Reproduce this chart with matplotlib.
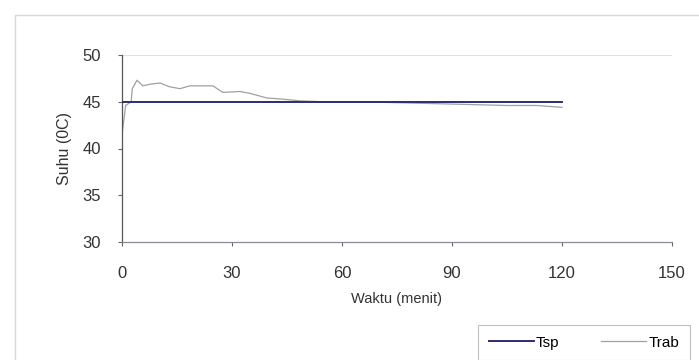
import matplotlib.pyplot as plt
from matplotlib.patches import Rectangle

plt.rcParams['font.family'] = ['Liberation Sans', 'DejaVu Sans']

# Setpoint suhu (Tsp)
t_sp = [0, 120]
suhu_sp = [45, 45]

# Suhu terukur (Trab)
t_rab = [0, 1, 2.5, 2.8, 4.1, 5.7, 8, 10.4, 13, 15.8, 18.5, 22, 24.8, 27.5,
         32.2, 34.9, 39.5, 43.1, 48.5, 55, 65, 75, 85, 95, 105, 113, 120]
suhu_rab = [41.5, 44.6, 45.0, 46.4, 47.3, 46.7, 46.9, 47.0, 46.6, 46.4, 46.7,
            46.7, 46.7, 46.0, 46.1, 45.9, 45.4, 45.3, 45.1, 45.0, 45.0, 44.9,
            44.8, 44.7, 44.6, 44.6, 44.4]

xticks = [0, 30, 60, 90, 120, 150]
yticks = [30, 35, 40, 45, 50]

fig = plt.figure(figsize=(6.99, 3.6), dpi=100)
ax = fig.add_axes([122 / 699, 1 - 242 / 360, 550 / 699, 187 / 360])

# bingkai area chart (hasil scan)
fig.patches.append(Rectangle((15 / 699, -0.2), 1.2, 1.2 - 15 / 360,
                             transform=fig.transFigure, fill=False,
                             edgecolor='#d8d8d8', linewidth=1.0))

ax.plot(t_rab, suhu_rab, color='#a0a0a0', linewidth=0.9, label='Trab', zorder=2)
ax.plot(t_sp, suhu_sp, color='#2a2f6e', linewidth=1.4, label='Tsp', zorder=3)

ax.set_xlim(0, 150)
ax.set_ylim(30, 50)
ax.set_xticks(xticks)
ax.set_yticks(yticks)
ax.axhline(50, color='#e0e0e0', linewidth=0.8, zorder=1)

for side in ['top', 'right']:
    ax.spines[side].set_visible(False)
ax.spines['left'].set_color('#555555')
ax.spines['bottom'].set_color('#8a8a9a')
ax.spines['left'].set_linewidth(0.9)
ax.spines['bottom'].set_linewidth(0.9)
ax.tick_params(axis='both', direction='out', length=3, width=0.8,
               colors='#666666', labelcolor='#333333', labelsize=12)
ax.tick_params(axis='x', pad=14)
ax.tick_params(axis='y', pad=12)

ax.set_xlabel('Waktu (menit)', fontsize=10.5, color='#333333', labelpad=8)
ax.set_ylabel('Suhu (0C)', fontsize=11.5, color='#333333', labelpad=8)

handles, labels = ax.get_legend_handles_labels()
leg = fig.legend(handles[::-1], labels[::-1], loc='upper left',
                 bbox_to_anchor=(478 / 699, 1 - 325 / 360), borderaxespad=0,
                 ncol=2, fontsize=11, frameon=True, fancybox=False,
                 handlelength=2.95, handletextpad=0.15, columnspacing=2.7,
                 borderpad=0.7)
leg.get_frame().set_edgecolor('#b0b0b0')
leg.get_frame().set_linewidth(0.8)

fig.savefig('out.png', dpi=100)
